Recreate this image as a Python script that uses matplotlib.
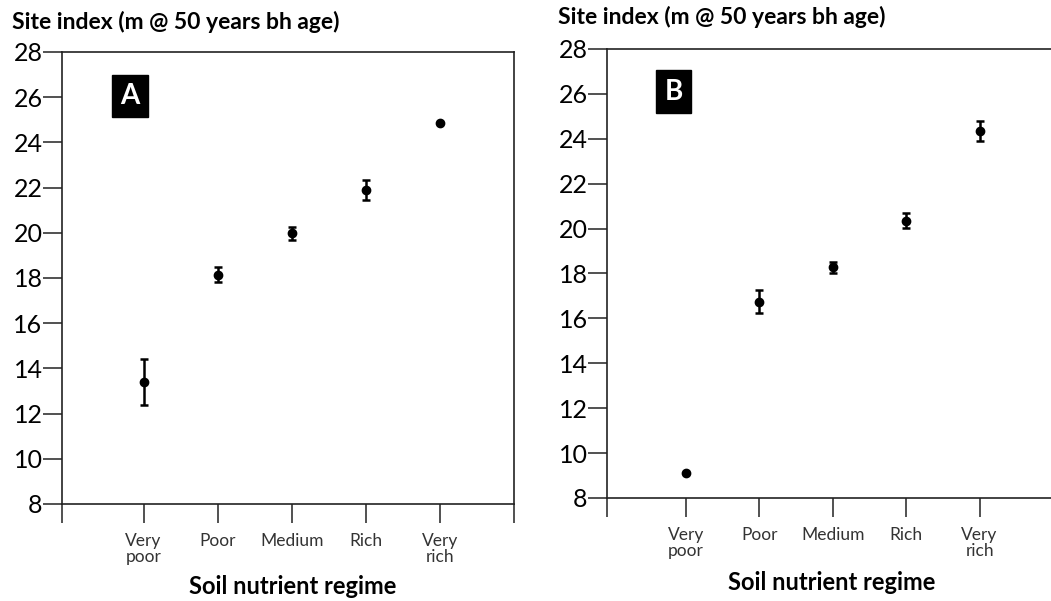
import numpy as np
from matplotlib import pyplot as plt

plt.rcParams['font.family'] = ['Lato', 'DejaVu Sans']

# Soil nutrient regime categories
categories = ['Very\npoor', 'Poor', 'Medium', 'Rich', 'Very\nrich']

# Panel A: site index means and error half-widths
site_a = [13.4, 18.15, 19.97, 21.9, 24.85]
err_a = [1.0, 0.33, 0.27, 0.45, 0.0]

# Panel B
site_b = [9.1, 16.75, 18.28, 20.35, 24.35]
err_b = [0.0, 0.52, 0.25, 0.33, 0.45]

y_ticks = [8, 10, 12, 14, 16, 18, 20, 22, 24, 26, 28]

fig = plt.figure(figsize=(10.51, 6.01), dpi=100)


def draw_panel(rect, values, errors, letter, xlim, letter_xy, ylabel_xy, xlabel_xy, right_spine):
    ax = fig.add_axes(rect)
    x = np.arange(1, len(values) + 1)
    vals = np.array(values)
    errs = np.array(errors)
    has_err = errs > 0
    ax.errorbar(x[has_err], vals[has_err], yerr=errs[has_err], fmt='o', color='black',
                markersize=6, elinewidth=1.8, capsize=3, capthick=1.8)
    ax.plot(x[~has_err], vals[~has_err], 'o', color='black', markersize=6)

    ax.set_xlim(*xlim)
    ax.set_ylim(8, 28)
    ax.set_yticks(y_ticks)
    ax.set_yticklabels([str(t) for t in y_ticks], fontsize=18)

    xt = [xlim[0]] + list(x)
    xl = [''] + categories
    if right_spine:
        xt.append(xlim[1])
        xl.append('')
    ax.set_xticks(xt)
    ax.set_xticklabels(xl, fontsize=12.5, linespacing=0.95, color='#333333')
    ax.tick_params(axis='both', direction='out', length=14, width=1.1, color='#222222')
    ax.tick_params(axis='y', pad=0)
    ax.tick_params(axis='x', pad=7)

    for s in ax.spines.values():
        s.set_linewidth(1.2)
        s.set_color('#222222')
    ax.spines['right'].set_visible(right_spine)

    ax.text(letter_xy[0], letter_xy[1], letter, color='white', fontsize=20, fontweight='bold',
            ha='center', va='center',
            bbox=dict(boxstyle='square,pad=0.3', facecolor='black', edgecolor='black'))

    fig.text(ylabel_xy[0], ylabel_xy[1], 'Site index (m @ 50 years bh age)', fontsize=16.5,
             fontweight='bold', ha='left', va='center')
    fig.text(xlabel_xy[0], xlabel_xy[1], 'Soil nutrient regime', fontsize=17,
             fontweight='bold', ha='center', va='center')
    return ax


draw_panel([0.059, 0.1614, 0.43, 0.7521], site_a, err_a, 'A', (-0.1, 6.0), (0.82, 26.05),
           (12 / 1051, 1 - 22 / 601), (293 / 1051, 1 - 587 / 601), True)
draw_panel([0.5776, 0.1714, 0.4224 + 0.002, 0.7471], site_b, err_b, 'B', (-0.07, 6.0), (0.84, 26.1),
           (558 / 1051, 1 - 17 / 601), (832 / 1051, 1 - 582 / 601), False)

plt.savefig('out.png', dpi=100)
